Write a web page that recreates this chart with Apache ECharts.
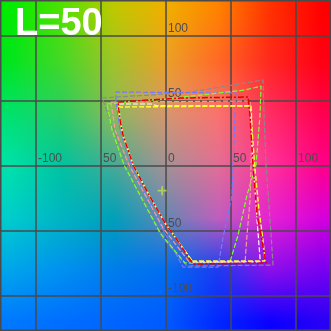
<!DOCTYPE html>
<html><head><meta charset="utf-8">
<script src="https://cdn.jsdelivr.net/npm/echarts@6/dist/echarts.min.js"></script>
<style>html,body{margin:0;padding:0;background:#fff}#c{width:331px;height:331px}</style>
</head><body><div id="c"></div>
<script>
// ---- data (CIELAB a*, b*) ----
const lightness = 50;
const gridValues = [-100, -50, 0, 50, 100];
const xTickLabels = ['-100', '50', '0', '50', '100'];
const yTickLabels = ['-100', '50', '', '50', '100'];
const whitePoint = [[-3, -19]];
const grayGamut = [[-49.2,52.3],[-38.5,53.1],[-12.3,54.6],[18.5,56.9],[74.6,66.2],[75.4,39.2],[76.9,0.8],[80.8,-53.1],[82.3,-76.2],[16.2,-76.9],[-2.3,-55.4],[-30,0.8],[-36.9,20],[-43.1,35.4],[-48.5,50.8],[-49.2,52.3]];
const blueGamut = [[-38.5,50.8],[-38.5,56.9],[53.8,56.2],[53.1,39.2],[51.5,0.8],[50.8,-22.3],[43.8,-55.4],[40,-77.7],[13.1,-77.7],[-2.3,-49.2],[-26.9,0.8],[-35.4,27.7],[-38.5,50.8]];
const greenGamut = [[-45.4,47.7],[-0.8,51.5],[60.8,58.5],[73.1,61.5],[72.3,39.2],[69.2,0.8],[62.3,-22.3],[55.4,-53.1],[49.2,-73.8],[14.6,-74.6],[-4.6,-51.5],[-32.3,0.8],[-41.5,27.7],[-45.4,47.7]];
const pinkGamut = [[-42.3,49.2],[64.6,50],[66.2,27.7],[64.6,-26.2],[62.3,-53.1],[60.8,-73.8],[18.5,-74.6],[-2.3,-47.7],[-28.5,0.8],[-39.2,27.7],[-42.3,49.2]];
const whiteGamut = [[-36.2,47.7],[-10.8,47.7],[-6.9,46.2],[64.6,46.2],[65.4,35.4],[66.9,4.6],[70,-41.5],[72.3,-70.8],[72.3,-73.8],[20.8,-73.8],[8.5,-56.9],[-0.8,-43.8],[-6.9,-33.1],[-13.1,-22.3],[-19.2,-10.8],[-25.4,0.8],[-29.2,12.3],[-33.1,23.8],[-35.4,35.4],[-36.2,47.7]];
const yellowGamut = [[-36.9,45.4],[65.4,46.2],[66.2,27.7],[68.5,-3.1],[71.5,-33.8],[74.6,-56.9],[76.2,-73.1],[20,-73.1],[8.5,-56.9],[-0.8,-43.8],[-6.9,-33.1],[-13.1,-22.3],[-19.2,-10.8],[-25.4,0.8],[-29.2,12.3],[-33.1,23.8],[-35.4,35.4],[-36.9,45.4]];
const redGamut = [[-36.9,49.2],[-12.3,50.8],[10.8,52.3],[63.1,53.1],[64.6,39.2],[66.9,0.8],[70,-37.7],[73.8,-56.9],[76.9,-74.6],[20.8,-75.4],[8.5,-56.9],[-0.8,-43.8],[-6.9,-33.1],[-13.1,-22.3],[-19.2,-10.8],[-25.4,0.8],[-29.2,12.3],[-33.1,23.8],[-35.4,35.4],[-36.9,49.2]];
const aRange = [-127.7, 126.9];
const bRange = [-126.9, 127.7];

// ---- background colour field (a*b* plane at L=50, as displayed) ----
const bgAnchors = [-120, -80, -40, 0, 40, 80, 120];
const bgColours = [ // rows: b = 120 .. -120, columns: a = -120 .. 120
  [[0,235,0],[80,225,0],[190,200,0],[240,175,0],[255,130,0],[255,50,0],[255,0,0]],
  [[0,230,30],[70,215,40],[160,195,40],[235,160,40],[255,105,40],[255,40,30],[255,0,20]],
  [[0,225,110],[40,205,100],[140,185,90],[215,150,110],[250,115,110],[255,45,100],[255,0,80]],
  [[0,225,170],[0,195,160],[70,170,150],[165,145,150],[225,110,150],[255,50,155],[255,0,140]],
  [[0,205,205],[0,180,195],[0,160,185],[100,135,180],[190,95,190],[230,35,210],[215,0,220]],
  [[0,165,235],[0,145,240],[0,125,235],[0,110,240],[30,60,240],[140,15,235],[120,0,240]],
  [[0,120,255],[0,110,255],[0,100,255],[0,90,255],[0,40,255],[10,0,255],[40,0,245]]
];
function fieldColour(a, b) {
  const n = bgAnchors.length, st = bgAnchors[1] - bgAnchors[0];
  let fi = (a - bgAnchors[0]) / st, fj = (bgAnchors[n - 1] - b) / st;
  fi = Math.min(Math.max(fi, 0), n - 1.0001); fj = Math.min(Math.max(fj, 0), n - 1.0001);
  const i = Math.floor(fi), j = Math.floor(fj), u = fi - i, v = fj - j;
  const c00 = bgColours[j][i], c10 = bgColours[j][i + 1], c01 = bgColours[j + 1][i], c11 = bgColours[j + 1][i + 1];
  return [0, 1, 2].map(k => (c00[k] * (1 - u) + c10[k] * u) * (1 - v) + (c01[k] * (1 - u) + c11[k] * u) * v);
}
const res = 2; // canvas pixels per unit
const W = Math.round((aRange[1] - aRange[0]) * res), H = Math.round((bRange[1] - bRange[0]) * res);
const bg = document.createElement('canvas');
bg.width = W; bg.height = H;
const ctx = bg.getContext('2d');
const img = ctx.createImageData(W, H);
for (let j = 0; j < H; j++) {
  for (let i = 0; i < W; i++) {
    const a = aRange[0] + (i + 0.5) / res, b = bRange[1] - (j + 0.5) / res;
    const c = fieldColour(a, b);
    const k = (j * W + i) * 4;
    img.data[k] = c[0]; img.data[k + 1] = c[1]; img.data[k + 2] = c[2]; img.data[k + 3] = 255;
  }
}
ctx.putImageData(img, 0, 0);

const chart = echarts.init(document.getElementById('c'), null, { renderer: 'canvas' });
const gridColor = '#4a4a4a';
const labelFont = '12px "Liberation Sans"';
const labelColor = '#4d4d4d';
function gamut(name, data, color, dash, width, z) {
  return { name, type: 'line', data, showSymbol: false, symbol: 'none', z,
    lineStyle: { color, width, type: dash }, silent: true, animation: false };
}
chart.setOption({
  animation: false,
  title: {
    text: 'L=' + lightness, left: 10, top: 1,
    textStyle: { color: '#ffffff', fontSize: 38, fontWeight: 'bold', fontFamily: 'Liberation Sans' }
  },
  grid: { left: 0, right: 0, top: 0, bottom: 0, show: false },
  xAxis: { type: 'value', min: aRange[0], max: aRange[1], show: false, splitLine: { show: false } },
  yAxis: { type: 'value', min: bRange[0], max: bRange[1], show: false, splitLine: { show: false } },
  graphic: [{
    type: 'rect', shape: { x: 0.75, y: 0.75, width: 329.5, height: 329.5 }, z: 100, silent: true,
    style: { fill: 'none', stroke: gridColor, lineWidth: 1.5 }
  }],
  series: [
    { // colour field background
      type: 'custom', z: 0, silent: true, data: [[0, 0]],
      renderItem: (params, api) => {
        const p0 = api.coord([aRange[0], bRange[1]]);
        const p1 = api.coord([aRange[1], bRange[0]]);
        return { type: 'image', style: { image: bg, x: p0[0], y: p0[1], width: p1[0] - p0[0], height: p1[1] - p0[1] } };
      }
    },
    { // grid lines at the tick values
      type: 'custom', z: 1, silent: true, data: gridValues.map(v => [v]),
      renderItem: (params, api) => {
        const v = api.value(0);
        const px = api.coord([v, 0])[0], py = api.coord([0, v])[1];
        const cs = params.coordSys;
        const st = { stroke: gridColor, lineWidth: 1.5 };
        return { type: 'group', children: [
          { type: 'line', shape: { x1: px, y1: cs.y, x2: px, y2: cs.y + cs.height }, style: st },
          { type: 'line', shape: { x1: cs.x, y1: py, x2: cs.x + cs.width, y2: py }, style: st }
        ] };
      }
    },
    { // a* tick labels along b*=0
      type: 'custom', z: 1, silent: true, data: gridValues.map((v, i) => [v, 0, i]),
      renderItem: (params, api) => {
        const p = api.coord([api.value(0), api.value(1)]);
        return { type: 'text', x: p[0] + 2, y: p[1] - 1,
          style: { text: xTickLabels[api.value(2)], font: labelFont, fill: labelColor, align: 'left', verticalAlign: 'bottom' } };
      }
    },
    { // b* tick labels along a*=0
      type: 'custom', z: 1, silent: true, data: gridValues.map((v, i) => [0, v, i]),
      renderItem: (params, api) => {
        const p = api.coord([api.value(0), api.value(1)]);
        return { type: 'text', x: p[0] + 2, y: p[1] - 1,
          style: { text: yTickLabels[api.value(2)], font: labelFont, fill: labelColor, align: 'left', verticalAlign: 'bottom' } };
      }
    },
    gamut('gray', grayGamut, '#8a8a8a', [5, 2], 1.2, 3),
    gamut('blue', blueGamut, '#7878ff', [5, 2], 1.2, 4),
    gamut('green', greenGamut, '#80ff30', [5, 2], 1.2, 5),
    gamut('pink', pinkGamut, '#ff9898', [5, 2], 1.2, 6),
    gamut('white', whiteGamut, '#ffffff', [5, 2], 1.2, 7),
    gamut('yellow', yellowGamut, '#ffff30', [5, 2], 1.4, 8),
    gamut('red', redGamut, '#e00000', [6, 2, 2, 2], 1.5, 9),
    {
      type: 'scatter', data: whitePoint, z: 10, silent: true,
      symbol: 'path://M4,0h2v4h4v2h-4v4h-2v-4h-4v-2h4z', symbolSize: 9,
      itemStyle: { color: '#b8e048' }
    }
  ]
});
</script></body></html>
